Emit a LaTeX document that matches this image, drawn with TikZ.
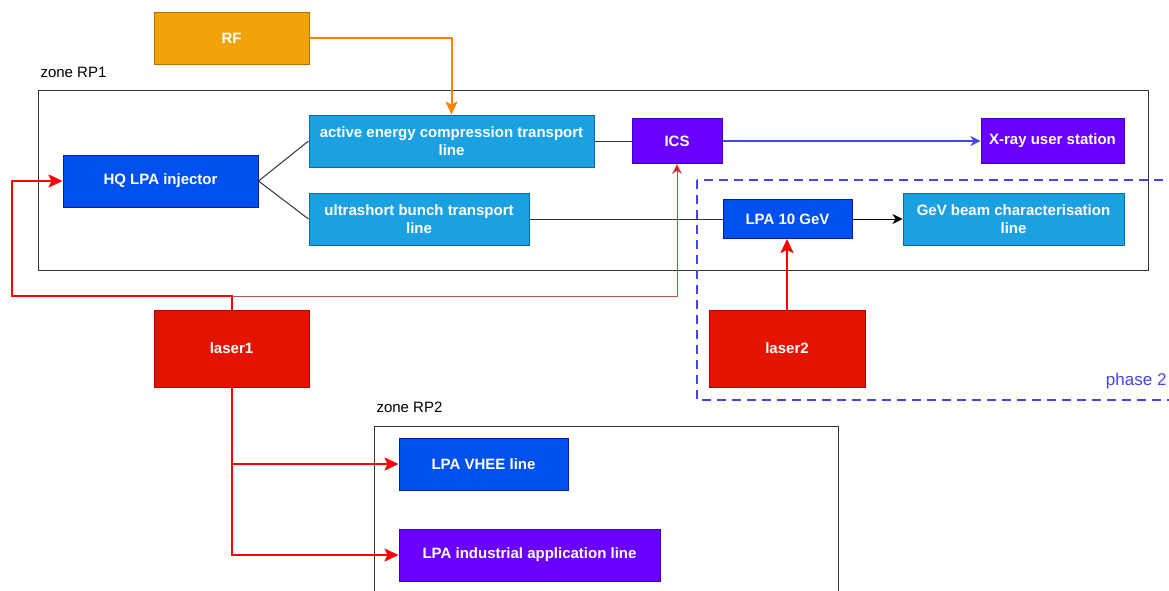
\documentclass[tikz,border=0pt]{standalone}
\usepackage{fontspec}
\setmainfont{Liberation Sans}
\usepackage{xcolor}
\usepackage{tikz}
\usetikzlibrary{arrows.meta,positioning,calc}
\definecolor{crf}{HTML}{F0A30A}
\definecolor{crfborder}{HTML}{BD7000}
\definecolor{cinj}{HTML}{0050EF}
\definecolor{cinjborder}{HTML}{001DBC}
\definecolor{cline}{HTML}{1BA1E2}
\definecolor{clineborder}{HTML}{006EAF}
\definecolor{cics}{HTML}{6A00FF}
\definecolor{cicsborder}{HTML}{3700CC}
\definecolor{claser}{HTML}{E51400}
\definecolor{claserborder}{HTML}{B20000}
\definecolor{cphase}{HTML}{4545EE}
\definecolor{cthin}{HTML}{B85450}
\definecolor{corange}{HTML}{FF8000}

\begin{document}
\begin{tikzpicture}[
    x=1pt, y=-1pt,
    box/.style={rectangle, line width=1pt, align=center, text=white, inner sep=2pt,
                font=\fontsize{15}{18}\selectfont\bfseries},
    rfnode/.style={box, draw=crfborder, fill=crf},
    injnode/.style={box, draw=cinjborder, fill=cinj},
    tlnode/.style={box, draw=clineborder, fill=cline},
    icsnode/.style={box, draw=cicsborder, fill=cics},
    lasnode/.style={box, draw=claserborder, fill=claser},
    zone/.style={draw=black!80, line width=1pt},
    zonelbl/.style={anchor=west, font=\fontsize{15}{18}\selectfont},
    link/.style={draw=black!80, line width=1pt},
    barr/.style={-{Stealth[length=10pt,width=10pt,inset=3pt]}, line width=1pt, draw=black},
    xarr/.style={-{Stealth[length=10pt,width=10pt,inset=3pt]}, line width=1.5pt, draw=cphase},
    rfarr/.style={-{Stealth[length=13pt,width=12pt,inset=3pt]}, line width=2pt, draw=corange},
    larr/.style={-{Stealth[length=14pt,width=13pt,inset=3pt]}, line width=2pt, draw=red},
    tarr/.style={-{Stealth[length=10pt,width=10pt,inset=3pt,fill=red]}, line width=1pt, draw=cthin}
]
\useasboundingbox (0,0) rectangle (1169,590);
\clip (0,0) rectangle (1169,590);

% zones
\draw[zone] (38,90) rectangle (1148,270);
\node[zonelbl] (rp1lbl) at (37,72) {zone RP1};
\draw[zone] (374,426) rectangle (838,610);
\node[zonelbl] (rp2lbl) at (373,407) {zone RP2};
\draw[cphase, line width=2pt, dash pattern=on 9pt off 6pt] (697,180) rectangle (1190,400);
\node[anchor=east, text=cphase, font=\fontsize{17}{20}\selectfont] (ph2) at (1170,381) {phase 2};

% nodes
\node[rfnode, minimum width=155pt, minimum height=52pt] (rf) at (231.5,38) {RF};
\node[injnode, minimum width=195pt, minimum height=52pt] (hq) at (160.5,181) {HQ LPA injector};
\node[tlnode, minimum width=285pt, minimum height=52pt] (active) at (451.5,141) {active energy compression transport\\line};
\node[tlnode, minimum width=220pt, minimum height=52pt] (ultra) at (419,219) {ultrashort bunch transport\\line};
\node[icsnode, minimum width=90pt, minimum height=45pt] (ics) at (677,141) {ICS};
\node[icsnode, minimum width=143pt, minimum height=45pt] (xray) at (1052.5,141) {X-ray user station};
\node[injnode, minimum width=129pt, minimum height=39pt] (lpa10) at (787.5,219) {LPA 10 GeV};
\node[tlnode, minimum width=221pt, minimum height=52pt] (gev) at (1013.5,219) {GeV beam characterisation\\line};
\node[lasnode, minimum width=155pt, minimum height=77pt] (laser1) at (231.5,348.5) {laser1};
\node[lasnode, minimum width=156pt, minimum height=77pt] (laser2) at (787,348.5) {laser2};
\node[injnode, minimum width=169pt, minimum height=52pt] (vhee) at (483.5,464) {LPA VHEE line};
\node[icsnode, minimum width=261pt, minimum height=52pt] (indus) at (529.5,555) {LPA industrial application line};

\coordinate (lside) at (12,296);

% connectors
\draw[rfarr] (rf.east) -| (active.north);
\draw[link] (hq.east) -- (active.west);
\draw[link] (hq.east) -- (ultra.west);
\draw[link] (active.east) -- (active.east -| ics.west);
\draw[xarr] (ics.east) -- (xray.west);
\draw[link] (ultra.east) -- (ultra.east -| lpa10.west);
\draw[barr] (lpa10.east) -- (lpa10.east -| gev.west);
\draw[larr] (laser2.north) -- (laser2.north |- lpa10.south);
\draw[tarr] (laser1.north) -- (laser1.north |- lside) -| (ics.south);
\draw[larr] (laser1.north) |- (lside) |- (hq.west);
\draw[larr] (laser1.south) |- (vhee.west);
\draw[larr] (laser1.south) |- (indus.west);
\end{tikzpicture}
\end{document}
